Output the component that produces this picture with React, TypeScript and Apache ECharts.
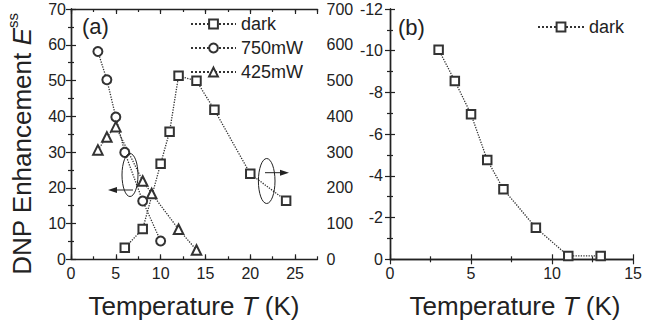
import React, { useEffect, useRef } from "react";
import * as echarts from "echarts";

// Panel (a): temperature (K) and DNP enhancement
const darkTa = [6, 8, 10, 11, 12, 14, 16, 20, 24];
const darkEa = [32, 85, 267, 357, 513, 499, 418, 239, 164]; // right axis (0-700)
const t750 = [3, 4, 5, 6, 8, 10];
const e750 = [58.1, 50.2, 39.8, 29.9, 16.3, 5.1];
const t425 = [3, 4, 5, 8, 9, 12, 14];
const e425 = [30.6, 34.2, 37.1, 21.9, 18.4, 8.4, 2.6];
// Panel (b)
const darkTb = [3, 4, 5, 6, 7, 9, 11, 13];
const darkEb = [-10.05, -8.55, -6.95, -4.76, -3.36, -1.51, -0.16, -0.16];

const legendA = ["dark", "750mW", "425mW"];
const legendB = ["dark"];

const FONT = "'Liberation Sans', Arial, Helvetica, sans-serif";
const INK = "#222";

const zip = (xs: number[], ys: number[]) => xs.map((x, i) => [x, ys[i]]);

export default function App() {
  const ref = useRef<HTMLDivElement>(null);
  useEffect(() => {
    if (!ref.current) return;
    const chart = echarts.init(ref.current, undefined, { renderer: "svg" });
    const axisLine = { show: true, lineStyle: { color: INK, width: 1.4 } };
    const label = { color: INK, fontFamily: FONT, fontSize: 16 };
    const majorTick = { show: true, inside: true, length: 5, lineStyle: { color: INK, width: 1.2 } };
    const minorTickAx = { show: true, inside: true, length: 3, lineStyle: { color: INK, width: 1.2 } };
    const minor = { show: true, splitNumber: 2, length: 3, lineStyle: { color: INK, width: 1.2 } };

    const xBase = (grid: number, pos: string, max: number) => ({
      type: "value", gridIndex: grid, position: pos, min: 0, max,
      splitLine: { show: false }, axisLine,
    });

    const xAxis: any[] = [
      { ...xBase(0, "bottom", 27.5), interval: 5, axisTick: majorTick,
        axisLabel: { ...label, margin: 6, showMaxLabel: false,
          formatter: (v: number) => (v % 5 === 0 ? String(v) : "") } },
      { ...xBase(0, "bottom", 27.5), interval: 2.5, axisLine: { show: false },
        axisTick: minorTickAx, axisLabel: { show: false } },
      { ...xBase(0, "top", 27.5), interval: 5, axisTick: majorTick, axisLabel: { show: false } },
      { ...xBase(0, "top", 27.5), interval: 2.5, axisLine: { show: false },
        axisTick: minorTickAx, axisLabel: { show: false } },
      { ...xBase(1, "bottom", 15), interval: 5, axisTick: majorTick, minorTick: minor,
        axisLabel: { ...label, margin: 6 } },
      { ...xBase(1, "top", 15), interval: 5, axisTick: majorTick, minorTick: minor,
        axisLabel: { show: false } },
    ];

    const yAxis: any[] = [
      { type: "value", gridIndex: 0, position: "left", min: 0, max: 70, interval: 10,
        splitLine: { show: false }, axisLine, axisTick: majorTick, minorTick: minor,
        axisLabel: { ...label, margin: 5 } },
      { type: "value", gridIndex: 0, position: "right", min: 0, max: 700, interval: 100,
        splitLine: { show: false }, axisLine, axisTick: majorTick, minorTick: minor,
        axisLabel: { ...label, margin: 9 } },
      { type: "value", gridIndex: 1, position: "left", min: -12, max: 0, interval: 2, inverse: true,
        splitLine: { show: false }, axisLine, axisTick: majorTick, minorTick: minor,
        axisLabel: { ...label, margin: 7 } },
      { type: "value", gridIndex: 1, position: "right", min: -12, max: 0, interval: 2, inverse: true,
        splitLine: { show: false }, axisLine, axisTick: majorTick, minorTick: minor,
        axisLabel: { show: false } },
    ];

    const lineStyle = { color: "#333", width: 1.3, type: "dotted" };
    const itemStyle = { color: "#333", borderColor: "#333", borderWidth: 1.2 };
    const mk = (name: string, data: number[][], symbol: string, size: number, xi: number, yi: number) => ({
      type: "line", name, data, symbol, symbolSize: size, xAxisIndex: xi, yAxisIndex: yi,
      lineStyle, itemStyle, showAllSymbol: true, silent: true, z: 3,
    });

    const series = [
      mk(legendA[0], zip(darkTa, darkEa), "emptyRect", 8.5, 0, 1),
      mk(legendA[1], zip(t750, e750), "emptyCircle", 9, 0, 0),
      mk(legendA[2], zip(t425, e425), "emptyTriangle", 9.5, 0, 0),
      mk(legendB[0], zip(darkTb, darkEb), "emptyRect", 8.5, 4, 2),
    ];

    const legendCommon = {
      orient: "vertical", itemHeight: 11, itemGap: 6,
      textStyle: { color: INK, fontFamily: FONT, fontSize: 18, lineHeight: 18 },
      selectedMode: false, padding: 0,
    };

    const stroke = { stroke: INK, lineWidth: 1, fill: "none" };
    const graphic: any[] = [
      { type: "text", x: 82, y: 26, style: { text: "(a)", font: `22px ${FONT}`, fill: INK, verticalAlign: "middle" } },
      { type: "text", x: 398, y: 27, style: { text: "(b)", font: `22px ${FONT}`, fill: INK, verticalAlign: "middle" } },
      { type: "ellipse", shape: { cx: 130, cy: 175, rx: 8, ry: 21.5 }, style: stroke, z: 10 },
      { type: "line", shape: { x1: 133, y1: 190, x2: 115, y2: 190 }, style: { stroke: INK, lineWidth: 1 }, z: 10 },
      { type: "polygon", shape: { points: [[108, 190], [117, 187], [117, 193]] }, style: { fill: INK }, z: 10 },
      { type: "ellipse", shape: { cx: 266.7, cy: 181, rx: 8.3, ry: 22.5 }, style: stroke, z: 10 },
      { type: "line", shape: { x1: 265, y1: 172.7, x2: 282, y2: 172.7 }, style: { stroke: INK, lineWidth: 1 }, z: 10 },
      { type: "polygon", shape: { points: [[289, 172.7], [280, 169.7], [280, 175.7]] }, style: { fill: INK }, z: 10 },
      { type: "text", x: 20, y: 144, rotation: Math.PI / 2,
        style: {
          text: "{a|DNP Enhancement }{e|E}{s|ss}", align: "center", verticalAlign: "middle", fill: INK,
          rich: {
            a: { fontFamily: FONT, fontSize: 26, lineHeight: 30, verticalAlign: "bottom", fill: INK },
            e: { fontFamily: FONT, fontSize: 26, lineHeight: 30, fontStyle: "italic", verticalAlign: "bottom", fill: INK },
            s: { fontFamily: FONT, fontSize: 15, lineHeight: 15, verticalAlign: "top", fill: INK },
          },
        } },
      { type: "text", x: 194, y: 306,
        style: {
          text: "{a|Temperature }{i|T}{a| (K)}", align: "center", verticalAlign: "middle", fill: INK,
          rich: {
            a: { fontFamily: FONT, fontSize: 26, fill: INK },
            i: { fontFamily: FONT, fontSize: 26, fontStyle: "italic", fill: INK },
          },
        } },
      { type: "text", x: 515, y: 306,
        style: {
          text: "{a|Temperature }{i|T}{a| (K)}", align: "center", verticalAlign: "middle", fill: INK,
          rich: {
            a: { fontFamily: FONT, fontSize: 26, fill: INK },
            i: { fontFamily: FONT, fontSize: 26, fontStyle: "italic", fill: INK },
          },
        } },
    ];

    chart.setOption({
      animation: false,
      backgroundColor: "#fff",
      grid: [
        { left: 71, right: 645 - 317.5, top: 9, bottom: 329 - 259.3 },
        { left: 390, right: 9, top: 9, bottom: 329 - 259.3 },
      ],
      xAxis, yAxis, series,
      legend: [
        { ...legendCommon, data: legendA, left: 190, top: 15, itemWidth: 45 },
        { ...legendCommon, data: legendB, left: 537, top: 18, itemWidth: 46 },
      ],
      graphic,
    });
    return () => chart.dispose();
  }, []);
  return <div ref={ref} style={{ position: "absolute", left: 0, top: 0, width: 645, height: 329 }} />;
}
